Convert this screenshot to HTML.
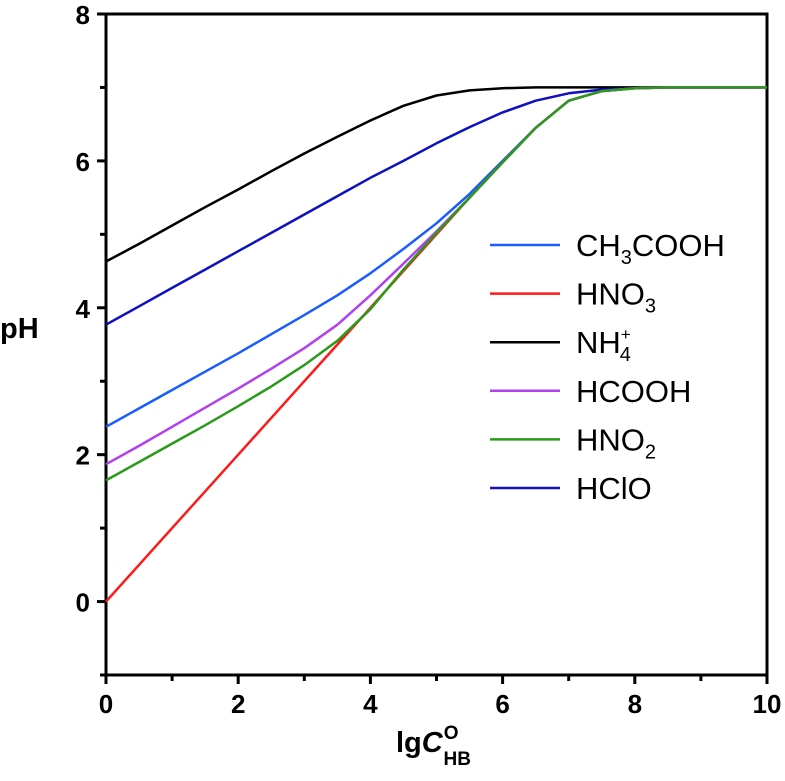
<!DOCTYPE html>
<html><head><meta charset="utf-8"><style>
body{margin:0;background:#fff;}
svg text{font-family:"Liberation Sans",Arial,sans-serif;}
</style></head><body>
<svg id="chart" width="785" height="776" xmlns="http://www.w3.org/2000/svg">
<g id="axes"></g><g id="series"></g><g id="legend"></g>
<text x="0" y="338" font-size="29" font-weight="bold">pH</text>
<text x="396" y="752" font-size="29" font-weight="bold">lg<tspan font-style="italic">C</tspan><tspan font-size="19" dy="-13" dx="1">O</tspan><tspan font-size="19" dy="26" dx="-15">HB</tspan></text>
</svg>
<script>
const xValues=[0,0.5,1,1.5,2,2.5,3,3.5,4,4.5,5,5.5,6,6.5,7,7.5,8,8.5,9,9.5,10];
const seriesNames=["CH3COOH","HNO3","NH4","HCOOH","HNO2","HClO"];
const seriesColors=["#1a5cff","#ff1a1a","#000000","#b040f0","#2a9a1a","#1010c0"];
const hno3=[0,0.5,1,1.5,2,2.5,3,3.5,4,4.5,5,5.5,5.98,6.45,6.82,6.95,6.99,7,7,7,7];
const hno2=[1.65,1.9,2.15,2.4,2.66,2.93,3.22,3.55,3.98,4.52,5.02,5.5,5.98,6.45,6.82,6.95,6.99,7,7,7,7];
const hcooh=[1.87,2.12,2.38,2.64,2.9,3.17,3.45,3.77,4.17,4.6,5.04,5.5,5.98,6.45,6.82,6.95,6.99,7,7,7,7];
const ch3cooh=[2.38,2.63,2.88,3.13,3.38,3.64,3.9,4.17,4.47,4.8,5.15,5.55,6.0,6.45,6.82,6.95,6.99,7,7,7,7];
const hclo=[3.77,4.02,4.27,4.52,4.77,5.02,5.27,5.52,5.77,6.0,6.24,6.46,6.66,6.82,6.92,6.97,6.99,7,7,7,7];
const nh4=[4.63,4.87,5.12,5.37,5.61,5.86,6.1,6.33,6.55,6.75,6.89,6.96,6.99,7,7,7,7,7,7,7,7];
const xTicks=[0,2,4,6,8,10];
const yTicks=[0,2,4,6,8];
const NS="http://www.w3.org/2000/svg";
const X0=106,X1=767,Y0=675,Y1=14,xMin=0,xMax=10,yMin=-1,yMax=8;
function sx(v){return X0+(v-xMin)/(xMax-xMin)*(X1-X0);}
function sy(v){return Y0-(v-yMin)/(yMax-yMin)*(Y0-Y1);}
function mk(tag,attrs,parent){const e=document.createElementNS(NS,tag);for(const k in attrs)e.setAttribute(k,attrs[k]);parent.appendChild(e);return e;}
const axes=document.getElementById('axes');
const frame=mk('rect',{x:X0,y:Y1,width:X1-X0,height:Y0-Y1,fill:'none',stroke:'#000','stroke-width':3},axes);


for(let v=0;v<=10;v++){
  const major=v%2===0;
  const t=mk('line',{x1:sx(v),x2:sx(v),y1:Y0,y2:Y0+(major?9:6),stroke:'#000','stroke-width':3},axes);
  
  
}
xTicks.forEach(v=>{
  const t=mk('text',{x:sx(v),y:Y0+38,'font-size':26,'font-weight':'bold','text-anchor':'middle'},axes);
  t.textContent=v;
  
  
});
for(let v=-1;v<=8;v++){
  const major=v%2===0;
  const t=mk('line',{x1:X0,x2:X0-(major?9:6),y1:sy(v),y2:sy(v),stroke:'#000','stroke-width':3},axes);
  
  
}
yTicks.forEach(v=>{
  const t=mk('text',{x:X0-16,y:sy(v)+10,'font-size':26,'font-weight':'bold','text-anchor':'end'},axes);
  t.textContent=v;
  
  
});
const series=document.getElementById('series');
const data=[ch3cooh,hno3,nh4,hcooh,hno2,hclo];
const drawOrder=[2,5,0,1,3,4];
drawOrder.forEach(i=>{
  const pts=xValues.map((x,j)=>sx(x).toFixed(1)+','+sy(data[i][j]).toFixed(1)).join(' ');
  const p=mk('polyline',{points:pts,fill:'none',stroke:seriesColors[i],'stroke-width':2.5,'stroke-linejoin':'round'},series);
  
  
});
const legend=document.getElementById('legend');
const labels=['CH<tspan font-size="20" dy="8">3</tspan><tspan dy="-8">COOH</tspan>','HNO<tspan font-size="20" dy="8">3</tspan>','NH<tspan font-size="17" dy="-13">+</tspan><tspan font-size="20" dy="21" dx="-11">4</tspan>','HCOOH','HNO<tspan font-size="20" dy="8">2</tspan>','HClO'];
seriesNames.forEach((n,i)=>{
  const y=245+i*48.6;
  const l=mk('line',{x1:490,x2:560,y1:y,y2:y,stroke:seriesColors[i],'stroke-width':2.5},legend);
  
  
  const t=mk('text',{x:576,y:y+11,'font-size':31},legend);
  t.innerHTML=labels[i];
  
  
});
</script>
</body></html>
